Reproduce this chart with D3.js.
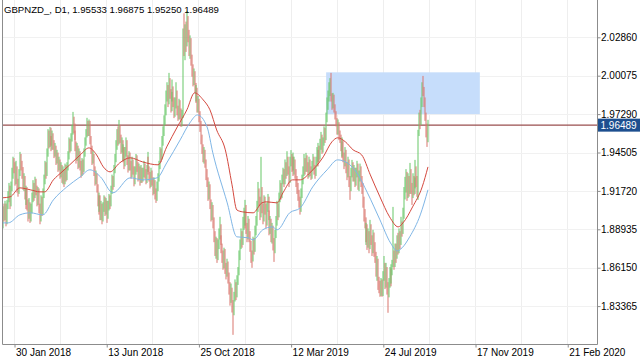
<!DOCTYPE html>
<html><head><meta charset="utf-8">
<script src="https://cdn.jsdelivr.net/npm/d3@7"></script>
<style>html,body{margin:0;padding:0;background:#fff;}svg{display:block;}</style>
</head><body><svg id="c" width="640" height="360"></svg>
<script>
const symbolTitle = "GBPNZD_, D1, 1.95533 1.96875 1.95250 1.96489";

const open = [
1.8700,1.8930,1.9010,1.8990,1.9050,1.8960,1.9070,1.9120,1.9180,1.9090,
1.9200,1.9300,1.9400,1.9350,1.9250,1.9330,1.9220,1.9180,1.9300,1.9430,
1.9360,1.9300,1.9220,1.9260,1.9150,1.9100,1.9180,1.9080,1.9000,1.9060,
1.8980,1.9040,1.9120,1.9200,1.9150,1.9230,1.9180,1.9100,1.9160,1.9050,
1.8980,1.9100,1.9030,1.9150,1.9250,1.9350,1.9300,1.9450,1.9580,1.9520,
1.9600,1.9540,1.9490,1.9570,1.9510,1.9450,1.9480,1.9400,1.9430,1.9350,
1.9380,1.9300,1.9340,1.9260,1.9310,1.9250,1.9330,1.9280,1.9350,1.9420,
1.9520,1.9480,1.9560,1.9600,1.9680,1.9620,1.9580,1.9500,1.9420,1.9480,
1.9380,1.9440,1.9360,1.9300,1.9380,1.9330,1.9450,1.9520,1.9580,1.9650,
1.9600,1.9660,1.9540,1.9480,1.9400,1.9420,1.9320,1.9250,1.9280,1.9200,
1.9100,1.9050,1.9120,1.9000,1.9060,1.8980,1.9050,1.9100,1.9030,1.9080,
1.9000,1.9060,1.9120,1.9080,1.9180,1.9250,1.9220,1.9330,1.9400,1.9500,
1.9580,1.9530,1.9620,1.9550,1.9480,1.9520,1.9420,1.9470,1.9380,1.9450,
1.9520,1.9400,1.9350,1.9420,1.9360,1.9300,1.9380,1.9330,1.9250,1.9310,
1.9400,1.9350,1.9280,1.9330,1.9260,1.9320,1.9270,1.9300,1.9350,1.9300,
1.9260,1.9330,1.9400,1.9320,1.9280,1.9230,1.9300,1.9250,1.9180,1.9230,
1.9150,1.9120,1.9200,1.9260,1.9350,1.9450,1.9420,1.9530,1.9600,1.9680,
1.9750,1.9850,1.9900,1.9820,1.9950,1.9880,1.9780,1.9850,1.9900,1.9820,
1.9750,1.9800,1.9880,1.9760,1.9720,1.9800,1.9740,1.9660,1.9720,2.0300,
2.0200,2.0330,2.0250,2.0400,2.0300,2.0200,2.0250,2.0120,2.0050,1.9980,
2.0020,1.9920,1.9850,1.9900,1.9780,1.9820,1.9720,1.9650,1.9550,1.9480,
1.9420,1.9450,1.9380,1.9300,1.9250,1.9150,1.9200,1.9080,1.9000,1.9050,
1.8950,1.8850,1.8750,1.8800,1.8700,1.8780,1.8850,1.8900,1.8820,1.8760,
1.8700,1.8650,1.8720,1.8620,1.8580,1.8640,1.8550,1.8480,1.8400,1.8450,
1.8350,1.8300,1.8400,1.8480,1.8420,1.8520,1.8580,1.8700,1.8780,1.8850,
1.8800,1.8920,1.9000,1.8950,1.9050,1.8900,1.8850,1.8950,1.8850,1.8780,
1.8700,1.8680,1.8800,1.8750,1.8880,1.8950,1.9050,1.9150,1.9100,1.9000,
1.9150,1.9050,1.8980,1.9100,1.9050,1.8950,1.9050,1.9100,1.9000,1.8900,
1.8950,1.8850,1.8900,1.8800,1.8750,1.8850,1.8950,1.9050,1.9000,1.9120,
1.9200,1.9150,1.9250,1.9300,1.9250,1.9350,1.9300,1.9400,1.9330,1.9260,
1.9380,1.9420,1.9350,1.9400,1.9320,1.9380,1.9300,1.9250,1.9200,1.9150,
1.9100,1.9050,1.9150,1.9250,1.9300,1.9380,1.9330,1.9400,1.9350,1.9300,
1.9380,1.9320,1.9280,1.9350,1.9400,1.9330,1.9300,1.9380,1.9450,1.9400,
1.9480,1.9420,1.9500,1.9550,1.9480,1.9520,1.9600,1.9560,1.9700,1.9800,
1.9850,1.9900,1.9950,1.9850,1.9800,1.9850,1.9780,1.9720,1.9680,1.9620,
1.9650,1.9580,1.9550,1.9500,1.9450,1.9520,1.9420,1.9380,1.9450,1.9350,
1.9300,1.9380,1.9250,1.9200,1.9300,1.9350,1.9280,1.9320,1.9250,1.9300,
1.9350,1.9220,1.9280,1.9330,1.9250,1.9200,1.9100,1.9000,1.8950,1.8850,
1.8900,1.8800,1.8850,1.8780,1.8900,1.8820,1.8750,1.8850,1.8780,1.8700,
1.8600,1.8650,1.8530,1.8480,1.8450,1.8500,1.8430,1.8550,1.8620,1.8500,
1.8600,1.8480,1.8420,1.8500,1.8580,1.8520,1.8600,1.8650,1.8700,1.8650,
1.8750,1.8700,1.8800,1.8750,1.8850,1.8800,1.8920,1.8880,1.9000,1.9150,
1.9200,1.9280,1.9150,1.9250,1.9180,1.9300,1.9200,1.9150,1.9250,1.9180,
1.9220,1.9300,1.9250,1.9150,1.9600,1.9700,1.9680,1.9800,1.9920,1.9900,
1.9820,1.9720,1.9620,1.95533];

const high = [
1.8960,1.9060,1.9080,1.9100,1.9080,1.9105,1.9170,1.9230,1.9210,1.9240,
1.9340,1.9420,1.9410,1.9380,1.9390,1.9350,1.9260,1.9330,1.9455,1.9440,
1.9390,1.9345,1.9300,1.9280,1.9190,1.9210,1.9200,1.9110,1.9120,1.9090,
1.9080,1.9160,1.9250,1.9230,1.9275,1.9260,1.9210,1.9200,1.9190,1.9080,
1.9140,1.9130,1.9190,1.9290,1.9390,1.9380,1.9480,1.9620,1.9610,1.9636,
1.9630,1.9570,1.9610,1.9590,1.9540,1.9520,1.9500,1.9470,1.9450,1.9420,
1.9400,1.9380,1.9360,1.9350,1.9330,1.9370,1.9360,1.9380,1.9460,1.9560,
1.9550,1.9590,1.9650,1.9745,1.9710,1.9660,1.9610,1.9530,1.9520,1.9500,
1.9480,1.9460,1.9390,1.9410,1.9400,1.9480,1.9560,1.9620,1.9702,1.9680,
1.9690,1.9680,1.9570,1.9500,1.9460,1.9440,1.9350,1.9320,1.9300,1.9220,
1.9140,1.9160,1.9140,1.9100,1.9080,1.9090,1.9140,1.9130,1.9120,1.9100,
1.9100,1.9150,1.9140,1.9210,1.9290,1.9280,1.9360,1.9440,1.9540,1.9620,
1.9640,1.9687,1.9650,1.9580,1.9560,1.9540,1.9510,1.9490,1.9490,1.9560,
1.9540,1.9430,1.9460,1.9450,1.9390,1.9420,1.9400,1.9350,1.9350,1.9440,
1.9430,1.9380,1.9370,1.9350,1.9360,1.9340,1.9340,1.9390,1.9370,1.9330,
1.9360,1.9455,1.9420,1.9350,1.9310,1.9340,1.9320,1.9270,1.9270,1.9250,
1.9190,1.9240,1.9300,1.9390,1.9490,1.9480,1.9570,1.9640,1.9720,1.9800,
1.9900,1.9960,1.9940,2.0028,1.9990,1.9910,1.9890,1.9980,1.9930,1.9850,
1.9850,1.9960,1.9900,1.9790,1.9840,1.9830,1.9770,1.9760,2.0350,2.0460,
2.0380,2.0400,2.0477,2.0440,2.0340,2.0300,2.0280,2.0160,2.0090,2.0060,
2.0040,1.9955,1.9940,1.9920,1.9860,1.9840,1.9750,1.9680,1.9580,1.9510,
1.9490,1.9470,1.9400,1.9330,1.9270,1.9240,1.9220,1.9110,1.9090,1.9070,
1.8980,1.8880,1.8840,1.8830,1.8820,1.8900,1.8984,1.8930,1.8850,1.8790,
1.8740,1.8760,1.8750,1.8650,1.8680,1.8660,1.8580,1.8510,1.8500,1.8470,
1.8380,1.8440,1.8530,1.8510,1.8560,1.8620,1.8740,1.8820,1.8900,1.8880,
1.8984,1.9050,1.9030,1.9107,1.9070,1.8940,1.8990,1.8970,1.8880,1.8810,
1.8740,1.8840,1.8830,1.8920,1.8990,1.9100,1.9237,1.9190,1.9130,1.9419,
1.9200,1.9080,1.9140,1.9130,1.9080,1.9090,1.9150,1.9130,1.9030,1.8990,
1.8970,1.8940,1.8920,1.8830,1.8890,1.8990,1.9100,1.9080,1.9160,1.9250,
1.9230,1.9290,1.9340,1.9330,1.9400,1.9380,1.9460,1.9420,1.9350,1.9420,
1.9468,1.9440,1.9450,1.9420,1.9420,1.9400,1.9330,1.9280,1.9230,1.9180,
1.9130,1.9190,1.9290,1.9350,1.9440,1.9410,1.9448,1.9430,1.9380,1.9420,
1.9400,1.9350,1.9390,1.9440,1.9420,1.9360,1.9420,1.9490,1.9470,1.9520,
1.9500,1.9550,1.9600,1.9580,1.9560,1.9640,1.9630,1.9740,1.9850,1.9900,
1.9960,1.9990,2.0028,1.9880,1.9883,1.9870,1.9800,1.9750,1.9700,1.9690,
1.9670,1.9610,1.9580,1.9530,1.9560,1.9540,1.9450,1.9490,1.9470,1.9380,
1.9420,1.9400,1.9280,1.9340,1.9397,1.9380,1.9360,1.9340,1.9340,1.9390,
1.9370,1.9320,1.9370,1.9350,1.9280,1.9230,1.9130,1.9040,1.8980,1.8940,
1.8930,1.8900,1.8880,1.8962,1.8930,1.8850,1.8890,1.8870,1.8800,1.8730,
1.8700,1.8680,1.8549,1.8520,1.8540,1.8530,1.8590,1.8700,1.8650,1.8650,
1.8620,1.8510,1.8540,1.8620,1.8610,1.8640,1.8672,1.9056,1.8740,1.8790,
1.8790,1.8850,1.8868,1.8900,1.8880,1.8984,1.8950,1.9050,1.9200,1.9274,
1.9330,1.9310,1.9300,1.9280,1.9375,1.9330,1.9230,1.9300,1.9280,1.9270,
1.9397,1.9350,1.9280,1.9615,1.9740,1.9760,1.9850,1.9960,2.0006,1.9926,
1.9850,1.9740,1.9660,1.96875];

const low = [
1.8620,1.8900,1.8950,1.8960,1.8915,1.8930,1.9040,1.9090,1.9040,1.9060,
1.9170,1.9260,1.9300,1.9210,1.9220,1.9160,1.9130,1.9150,1.9280,1.9320,
1.9260,1.9180,1.9170,1.9110,1.9040,1.9070,1.9030,1.8950,1.8970,1.8940,
1.8950,1.9010,1.9090,1.9100,1.9120,1.9140,1.9060,1.9070,1.9010,1.8930,
1.8950,1.8990,1.9000,1.9120,1.9220,1.9260,1.9280,1.9420,1.9480,1.9490,
1.9500,1.9460,1.9470,1.9470,1.9410,1.9420,1.9360,1.9370,1.9310,1.9320,
1.9260,1.9270,1.9230,1.9220,1.9200,1.9220,1.9240,1.9250,1.9320,1.9400,
1.9450,1.9460,1.9530,1.9580,1.9590,1.9540,1.9460,1.9370,1.9390,1.9330,
1.9340,1.9320,1.9267,1.9280,1.9290,1.9310,1.9420,1.9500,1.9560,1.9570,
1.9570,1.9510,1.9440,1.9360,1.9370,1.9280,1.9210,1.9220,1.9160,1.9060,
1.9000,1.9020,1.8960,1.8960,1.8930,1.8950,1.9020,1.8990,1.9000,1.8940,
1.8970,1.9030,1.9040,1.9060,1.9150,1.9180,1.9200,1.9300,1.9380,1.9470,
1.9500,1.9510,1.9520,1.9440,1.9450,1.9380,1.9390,1.9330,1.9350,1.9420,
1.9360,1.9305,1.9320,1.9320,1.9260,1.9270,1.9290,1.9205,1.9220,1.9290,
1.9310,1.9240,1.9250,1.9210,1.9230,1.9230,1.9240,1.9270,1.9260,1.9220,
1.9230,1.9310,1.9290,1.9240,1.9190,1.9200,1.9210,1.9140,1.9150,1.9110,
1.9085,1.9100,1.9170,1.9240,1.9330,1.9380,1.9400,1.9500,1.9570,1.9650,
1.9720,1.9820,1.9780,1.9800,1.9840,1.9740,1.9750,1.9820,1.9780,1.9700,
1.9710,1.9770,1.9720,1.9680,1.9690,1.9690,1.9636,1.9640,1.9700,2.0150,
2.0120,2.0180,2.0220,2.0250,2.0150,2.0130,2.0080,2.0000,1.9930,1.9940,
1.9880,1.9810,1.9820,1.9740,1.9740,1.9670,1.9600,1.9510,1.9440,1.9380,
1.9370,1.9340,1.9250,1.9200,1.9100,1.9110,1.9040,1.8950,1.8960,1.8900,
1.8800,1.8700,1.8680,1.8650,1.8670,1.8750,1.8820,1.8780,1.8720,1.8650,
1.8600,1.8610,1.8570,1.8530,1.8550,1.8500,1.8420,1.8340,1.8360,1.8290,
1.8128,1.8270,1.8370,1.8380,1.8400,1.8490,1.8560,1.8670,1.8750,1.8760,
1.8780,1.8890,1.8900,1.8920,1.8860,1.8800,1.8820,1.8800,1.8730,1.8650,
1.8614,1.8660,1.8710,1.8730,1.8850,1.8920,1.9020,1.9060,1.8960,1.8980,
1.9010,1.8930,1.8950,1.9000,1.8900,1.8920,1.9020,1.8960,1.8850,1.8860,
1.8800,1.8790,1.8740,1.8657,1.8720,1.8830,1.8920,1.8960,1.8980,1.9090,
1.9110,1.9120,1.9220,1.9200,1.9220,1.9260,1.9280,1.9290,1.9200,1.9230,
1.9350,1.9310,1.9320,1.9280,1.9290,1.9260,1.9200,1.9150,1.9100,1.9050,
1.9000,1.9020,1.9120,1.9220,1.9280,1.9290,1.9310,1.9310,1.9260,1.9270,
1.9280,1.9252,1.9260,1.9320,1.9290,1.9260,1.9280,1.9350,1.9350,1.9380,
1.9380,1.9400,1.9470,1.9440,1.9450,1.9500,1.9520,1.9540,1.9670,1.9760,
1.9820,1.9860,1.9820,1.9760,1.9770,1.9740,1.9690,1.9640,1.9580,1.9580,
1.9540,1.9520,1.9460,1.9410,1.9420,1.9380,1.9330,1.9350,1.9300,1.9250,
1.9270,1.9200,1.9107,1.9170,1.9270,1.9240,1.9240,1.9200,1.9210,1.9270,
1.9180,1.9170,1.9240,1.9200,1.9150,1.9050,1.8950,1.8900,1.8800,1.8780,
1.8744,1.8760,1.8720,1.8750,1.8780,1.8700,1.8720,1.8694,1.8650,1.8550,
1.8520,1.8454,1.8430,1.8404,1.8410,1.8404,1.8410,1.8520,1.8460,1.8470,
1.8420,1.8288,1.8400,1.8470,1.8480,1.8500,1.8560,1.8620,1.8600,1.8620,
1.8650,1.8680,1.8710,1.8720,1.8750,1.8780,1.8840,1.8860,1.8970,1.9110,
1.9160,1.9100,1.9120,1.9130,1.9150,1.9150,1.9070,1.9120,1.9140,1.9150,
1.9190,1.9200,1.9129,1.9107,1.9570,1.9620,1.9650,1.9780,1.9860,1.9780,
1.9680,1.9560,1.9491,1.95250];

const close = [
1.8930,1.9010,1.8990,1.9050,1.8960,1.9070,1.9120,1.9180,1.9090,1.9200,
1.9300,1.9400,1.9350,1.9250,1.9330,1.9220,1.9180,1.9300,1.9430,1.9360,
1.9300,1.9220,1.9260,1.9150,1.9100,1.9180,1.9080,1.9000,1.9060,1.8980,
1.9040,1.9120,1.9200,1.9150,1.9230,1.9180,1.9100,1.9160,1.9050,1.8980,
1.9100,1.9030,1.9150,1.9250,1.9350,1.9300,1.9450,1.9580,1.9520,1.9600,
1.9540,1.9490,1.9570,1.9510,1.9450,1.9480,1.9400,1.9430,1.9350,1.9380,
1.9300,1.9340,1.9260,1.9310,1.9250,1.9330,1.9280,1.9350,1.9420,1.9520,
1.9480,1.9560,1.9600,1.9680,1.9620,1.9580,1.9500,1.9420,1.9480,1.9380,
1.9440,1.9360,1.9300,1.9380,1.9330,1.9450,1.9520,1.9580,1.9650,1.9600,
1.9660,1.9540,1.9480,1.9400,1.9420,1.9320,1.9250,1.9280,1.9200,1.9100,
1.9050,1.9120,1.9000,1.9060,1.8980,1.9050,1.9100,1.9030,1.9080,1.9000,
1.9060,1.9120,1.9080,1.9180,1.9250,1.9220,1.9330,1.9400,1.9500,1.9580,
1.9530,1.9620,1.9550,1.9480,1.9520,1.9420,1.9470,1.9380,1.9450,1.9520,
1.9400,1.9350,1.9420,1.9360,1.9300,1.9380,1.9330,1.9250,1.9310,1.9400,
1.9350,1.9280,1.9330,1.9260,1.9320,1.9270,1.9300,1.9350,1.9300,1.9260,
1.9330,1.9400,1.9320,1.9280,1.9230,1.9300,1.9250,1.9180,1.9230,1.9150,
1.9120,1.9200,1.9260,1.9350,1.9450,1.9420,1.9530,1.9600,1.9680,1.9750,
1.9850,1.9900,1.9820,1.9950,1.9880,1.9780,1.9850,1.9900,1.9820,1.9750,
1.9800,1.9880,1.9760,1.9720,1.9800,1.9740,1.9660,1.9720,2.0300,2.0200,
2.0330,2.0250,2.0400,2.0300,2.0200,2.0250,2.0120,2.0050,1.9980,2.0020,
1.9920,1.9850,1.9900,1.9780,1.9820,1.9720,1.9650,1.9550,1.9480,1.9420,
1.9450,1.9380,1.9300,1.9250,1.9150,1.9200,1.9080,1.9000,1.9050,1.8950,
1.8850,1.8750,1.8800,1.8700,1.8780,1.8850,1.8900,1.8820,1.8760,1.8700,
1.8650,1.8720,1.8620,1.8580,1.8640,1.8550,1.8480,1.8400,1.8450,1.8350,
1.8300,1.8400,1.8480,1.8420,1.8520,1.8580,1.8700,1.8780,1.8850,1.8800,
1.8920,1.9000,1.8950,1.9050,1.8900,1.8850,1.8950,1.8850,1.8780,1.8700,
1.8680,1.8800,1.8750,1.8880,1.8950,1.9050,1.9150,1.9100,1.9000,1.9150,
1.9050,1.8980,1.9100,1.9050,1.8950,1.9050,1.9100,1.9000,1.8900,1.8950,
1.8850,1.8900,1.8800,1.8750,1.8850,1.8950,1.9050,1.9000,1.9120,1.9200,
1.9150,1.9250,1.9300,1.9250,1.9350,1.9300,1.9400,1.9330,1.9260,1.9380,
1.9420,1.9350,1.9400,1.9320,1.9380,1.9300,1.9250,1.9200,1.9150,1.9100,
1.9050,1.9150,1.9250,1.9300,1.9380,1.9330,1.9400,1.9350,1.9300,1.9380,
1.9320,1.9280,1.9350,1.9400,1.9330,1.9300,1.9380,1.9450,1.9400,1.9480,
1.9420,1.9500,1.9550,1.9480,1.9520,1.9600,1.9560,1.9700,1.9800,1.9850,
1.9900,1.9950,1.9850,1.9800,1.9850,1.9780,1.9720,1.9680,1.9620,1.9650,
1.9580,1.9550,1.9500,1.9450,1.9520,1.9420,1.9380,1.9450,1.9350,1.9300,
1.9380,1.9250,1.9200,1.9300,1.9350,1.9280,1.9320,1.9250,1.9300,1.9350,
1.9220,1.9280,1.9330,1.9250,1.9200,1.9100,1.9000,1.8950,1.8850,1.8900,
1.8800,1.8850,1.8780,1.8900,1.8820,1.8750,1.8850,1.8780,1.8700,1.8600,
1.8650,1.8530,1.8480,1.8450,1.8500,1.8430,1.8550,1.8620,1.8500,1.8600,
1.8480,1.8420,1.8500,1.8580,1.8520,1.8600,1.8650,1.8700,1.8650,1.8750,
1.8700,1.8800,1.8750,1.8850,1.8800,1.8920,1.8880,1.9000,1.9150,1.9200,
1.9280,1.9150,1.9250,1.9180,1.9300,1.9200,1.9150,1.9250,1.9180,1.9220,
1.9300,1.9250,1.9150,1.9600,1.9700,1.9680,1.9800,1.9920,1.9900,1.9820,
1.9720,1.9620,1.95533,1.96489];

// moving averages: [bar index, price]
const fastMA = [[0,1.9122],[8,1.9129],[18,1.9194],[29,1.9180],[39,1.9165],[44,1.9165],[53,1.9252],[62,1.9310],[70,1.9361],[81,1.9433],[90,1.9484],[98,1.9433],[105,1.9346],[112,1.9310],[122,1.9375],[133,1.9412],[146,1.9382],[162,1.9361],[171,1.9491],[182,1.9636],[192,1.9760],[200,1.9883],[209,1.9832],[216,1.9760],[223,1.9614],[232,1.9470],[239,1.9216],[244,1.9034],[250,1.9020],[261,1.9013],[270,1.9085],[275,1.9093],[286,1.9085],[292,1.9158],[302,1.9252],[310,1.9252],[320,1.9303],[334,1.9419],[343,1.9528],[349,1.9557],[357,1.9528],[365,1.9470],[374,1.9433],[383,1.9288],[393,1.9129],[403,1.8984],[412,1.8911],[417,1.8940],[427,1.9056],[437,1.9201],[443,1.9346]];
const slowMA = [[0,1.8940],[6,1.8940],[18,1.8998],[29,1.9013],[42,1.8998],[53,1.9107],[67,1.9201],[81,1.9274],[91,1.9325],[102,1.9274],[115,1.9158],[133,1.9267],[146,1.9252],[161,1.9267],[171,1.9375],[185,1.9542],[195,1.9665],[203,1.9723],[213,1.9636],[219,1.9448],[234,1.9085],[244,1.8839],[256,1.8832],[261,1.8817],[271,1.8890],[281,1.8911],[286,1.8890],[299,1.9013],[310,1.9049],[323,1.9201],[338,1.9325],[349,1.9397],[359,1.9375],[369,1.9303],[380,1.9158],[393,1.8962],[404,1.8795],[411,1.8737],[416,1.8759],[424,1.8839],[435,1.8998],[443,1.9180]];

const xTickBars = [12,108,204,300,396,492,588];
const xTickLabels = ["30 Jan 2018","13 Jun 2018","25 Oct 2018","12 Mar 2019","24 Jul 2019","17 Nov 2019","21 Feb 2020"];
const xGridBars = [12,60,108,156,204,252,300,348,396,444,492,540,588];
const yTickValues = [1.83365,1.86150,1.88935,1.91720,1.94505,1.97290,2.00075,2.02860];
const yTickLabels = ["1.83365","1.86150","1.88935","1.91720","1.94505","1.97290","2.00075","2.02860"];
const zoneBars = [337, 497];
const zonePrices = [1.9729, 2.0032];
const lastPrice = 1.96489;
const lastPriceLabel = "1.96489";

const L = 2, R = 597, T = 0, B = 344;
const svg = d3.select("#c");
const x = d3.scaleLinear().domain([-0.5, 619]).range([L, R]);
const y = d3.scaleLinear().domain([1.83365, 2.02860]).range([306.1, 37.3]);

svg.append("rect").attr("width",640).attr("height",360).attr("fill","#fff");
svg.append("defs").append("clipPath").attr("id","plot").append("rect")
  .attr("x",L).attr("y",T).attr("width",R-L).attr("height",B-T);

// grid
const grid = svg.append("g");
grid.selectAll(".vg").data(xGridBars).join("line")
  .attr("x1",d=>Math.round(x(d))+0.5).attr("x2",d=>Math.round(x(d))+0.5)
  .attr("y1",T).attr("y2",B).attr("stroke","#eeeeee").attr("stroke-width",1);
grid.selectAll(".hg").data(yTickValues).join("line")
  .attr("x1",L).attr("x2",R).attr("y1",d=>Math.round(y(d))+0.5).attr("y2",d=>Math.round(y(d))+0.5)
  .attr("stroke","#f1f1f1").attr("stroke-width",1);

const plot = svg.append("g").attr("clip-path","url(#plot)");

// zone rectangle
plot.append("rect")
  .attr("x",x(zoneBars[0])).attr("width",x(zoneBars[1])-x(zoneBars[0]))
  .attr("y",y(zonePrices[1])).attr("height",y(zonePrices[0])-y(zonePrices[1]))
  .attr("fill","#c6ddfb");

// last price line
plot.append("line").attr("x1",L).attr("x2",R)
  .attr("y1",y(lastPrice)).attr("y2",y(lastPrice))
  .attr("stroke","#9a4f4f").attr("stroke-width",1.4);

// candles
const n = Math.min(open.length, high.length, low.length, close.length);
const bars = d3.range(n);
plot.append("g").selectAll("rect").data(bars).join("rect")
  .attr("x",i=>Math.round(x(i))-0.5)
  .attr("width",1)
  .attr("y",i=>y(high[i]))
  .attr("height",i=>Math.max(1,y(low[i])-y(high[i])))
  .attr("fill",i=>close[i]>=open[i] ? "#69c869" : "#d9776e");

// moving averages
const line = d3.line().x(d=>x(d[0])).y(d=>y(d[1])).curve(d3.curveMonotoneX);
plot.append("path").datum(slowMA).attr("d",line).attr("fill","none")
  .attr("stroke","#7fb6e6").attr("stroke-width",1);
plot.append("path").datum(fastMA).attr("d",line).attr("fill","none")
  .attr("stroke","#d4483e").attr("stroke-width",1);

// frame
svg.append("path")
  .attr("d",`M${L+0.5},${T}V${B+0.5}H${R+0.5}V${T}`)
  .attr("fill","none").attr("stroke","#8c8c8c").attr("stroke-width",1);

// x axis
const xAxis = d3.axisBottom(x).tickValues(xTickBars)
  .tickFormat((d,i)=>xTickLabels[i]).tickSize(3).tickPadding(1.5);
const gx = svg.append("g").attr("transform",`translate(0,${B+0.5})`).call(xAxis);
gx.select(".domain").remove();
gx.selectAll(".tick line").attr("stroke","#8c8c8c").attr("transform","translate(0.5,0)");
gx.selectAll(".tick text").attr("text-anchor","start").attr("x",1.5)
  .attr("font-family","'Liberation Sans', Arial, sans-serif").attr("font-size",10).attr("fill","#000");

// y axis
const yAxis = d3.axisRight(y).tickValues(yTickValues)
  .tickFormat((d,i)=>yTickLabels[i]).tickSize(3).tickPadding(0.5);
const gy = svg.append("g").attr("transform",`translate(${R+0.5},0)`).call(yAxis);
gy.select(".domain").remove();
gy.selectAll(".tick line").attr("stroke","#8c8c8c");
gy.selectAll(".tick text")
  .attr("font-family","'Liberation Sans', Arial, sans-serif").attr("font-size",10).attr("fill","#000");

// last price label
const ly = y(lastPrice);
svg.append("rect").attr("x",R+1).attr("y",ly-6.5).attr("width",640-R-1).attr("height",13).attr("fill","#1d4f8f");
svg.append("text").attr("x",R+3.5).attr("y",ly+3.6).text(lastPriceLabel)
  .attr("font-family","'Liberation Sans', Arial, sans-serif").attr("font-size",10).attr("fill","#fff");

// title
svg.append("text").attr("x",4).attr("y",13).text(symbolTitle)
  .attr("font-family","'Liberation Sans', Arial, sans-serif").attr("font-size",9.6).attr("fill","#000");
</script>
</body></html>
